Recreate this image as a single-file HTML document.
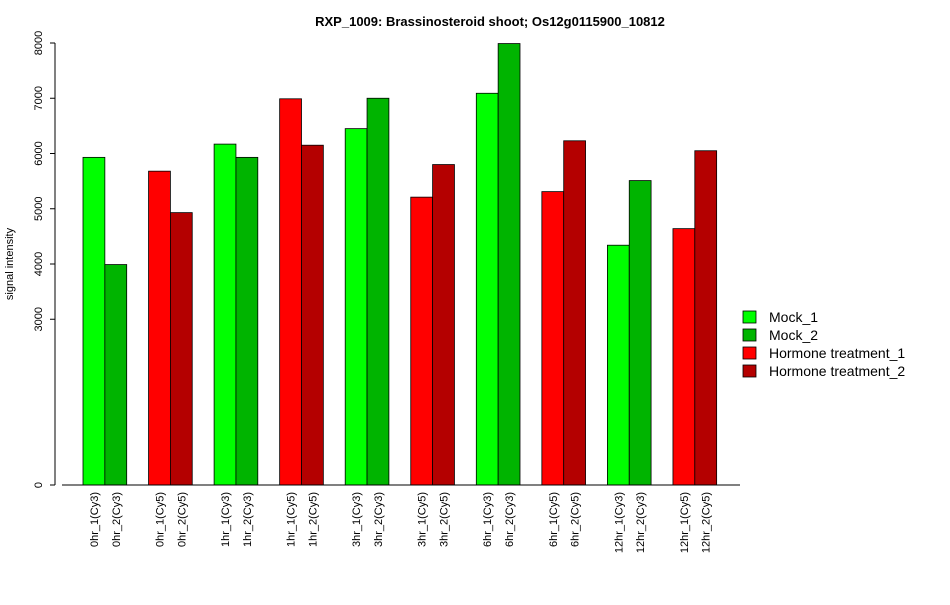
<!DOCTYPE html>
<html><head><meta charset="utf-8"><style>body{margin:0;background:#fff}svg{font-family:"Liberation Sans",Arial,sans-serif}</style></head>
<body>
<svg id="chart" width="950" height="600" xmlns="http://www.w3.org/2000/svg">
<text x="490" y="26" text-anchor="middle" font-weight="bold" font-size="13">RXP_1009: Brassinosteroid shoot; Os12g0115900_10812</text>
<text transform="translate(13,264) rotate(-90)" text-anchor="middle" font-size="11">signal intensity</text>
<g id="yaxis"></g>
<g id="bars"></g>
<g id="xlabels"></g>
<line x1="62" y1="485" x2="740" y2="485" stroke="#000"/>
<g id="legend"></g>
</svg>
<script>
const categories=["0hr_1(Cy3)","0hr_2(Cy3)","0hr_1(Cy5)","0hr_2(Cy5)","1hr_1(Cy3)","1hr_2(Cy3)","1hr_1(Cy5)","1hr_2(Cy5)","3hr_1(Cy3)","3hr_2(Cy3)","3hr_1(Cy5)","3hr_2(Cy5)","6hr_1(Cy3)","6hr_2(Cy3)","6hr_1(Cy5)","6hr_2(Cy5)","12hr_1(Cy3)","12hr_2(Cy3)","12hr_1(Cy5)","12hr_2(Cy5)"];
const values=[5930,3990,5680,4930,6170,5930,6990,6150,6450,7000,5210,5800,7090,7990,5310,6230,4340,5510,4640,6050];
const seriesIndex=[0,1,2,3,0,1,2,3,0,1,2,3,0,1,2,3,0,1,2,3];
const seriesNames=["Mock_1","Mock_2","Hormone treatment_1","Hormone treatment_2"];
const seriesColors=["#00ff00","#00b400","#ff0000","#b40000"];
const yTicks=[0,3000,4000,5000,6000,7000,8000];
const NS="http://www.w3.org/2000/svg";
function y(v){return 485-v*0.05525;}
const bw=21.85;
function x(i){const g=Math.floor(i/2);return 83+g*3*bw+(i%2)*bw;}
function mk(t,a,p){const e=document.createElementNS(NS,t);for(const k in a)e.setAttribute(k,a[k]);p.appendChild(e);return e;}
const ya=document.getElementById('yaxis');
mk('line',{x1:55,x2:55,y1:y(0),y2:y(8000),stroke:'#000'},ya);
yTicks.forEach(t=>{
 const l=mk('line',{x1:50,x2:55,y1:y(t),y2:y(t),stroke:'#000'},ya);
 
 
 const tx=mk('text',{transform:`translate(42,${y(t)}) rotate(-90)`,'text-anchor':'middle','font-size':11},ya);
 tx.textContent=t;
 
 
});
const bg=document.getElementById('bars'),xl=document.getElementById('xlabels');
values.forEach((v,i)=>{
 const r=mk('rect',{x:x(i),y:y(v),width:bw,height:y(0)-y(v),fill:seriesColors[seriesIndex[i]],stroke:'#000','stroke-width':0.8},bg);
 
 
 const t=mk('text',{transform:`translate(${x(i)+bw/2+4},492) rotate(-90)`,'text-anchor':'end','font-size':11},xl);
 t.textContent=categories[i];
 
 
});
const lg=document.getElementById('legend');
seriesNames.forEach((n,i)=>{
 const yy=317+i*18;
 const r=mk('rect',{x:743,y:yy-6,width:13,height:12,fill:seriesColors[i],stroke:'#000','stroke-width':0.8},lg);
 
 
 const t=mk('text',{x:769,y:yy+5,'font-size':14},lg);
 t.textContent=n;
 
 
});
</script>
</body></html>
